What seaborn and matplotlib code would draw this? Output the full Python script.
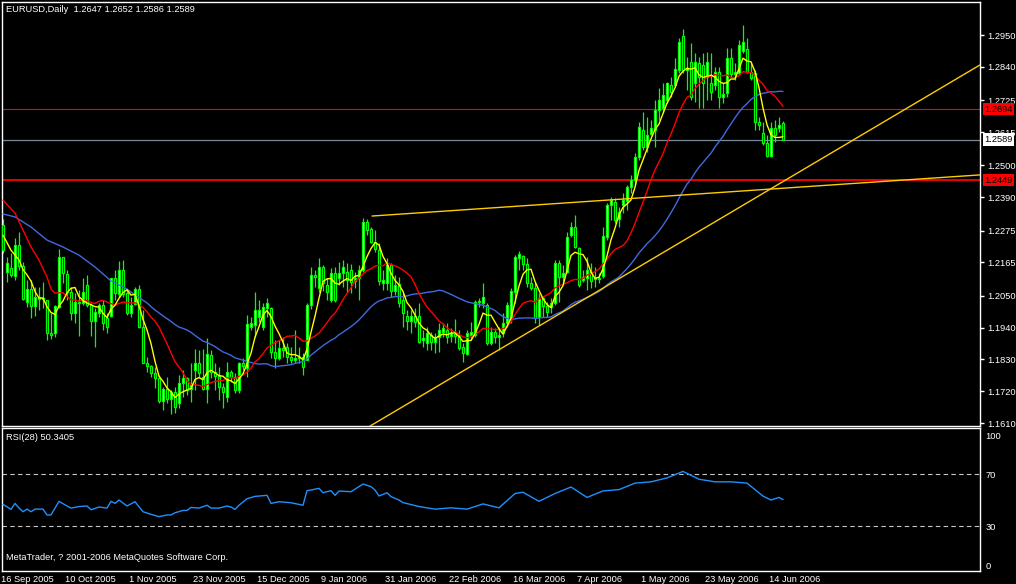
import numpy as np
import pandas as pd
import matplotlib
matplotlib.use("Agg")
import matplotlib.pyplot as plt
import matplotlib.transforms as mtransforms
import seaborn as sns

# ---------------- data (EURUSD daily, prices in pips = price * 1e4) ----------------
open_pips = [
    12294, 12131, 12145, 12117, 12225, 12152, 12028, 12073, 12014, 12045,
    12038, 12035, 11921, 11921, 12011, 12183, 12124, 12062, 11990, 12028,
    12025, 12087, 12018, 11962, 11990, 12018, 11972, 11979, 12110, 12055,
    12138, 12059, 11990, 12021, 12073, 11942, 11818, 11807, 11783, 11766,
    11687, 11728, 11693, 11717, 11680, 11749, 11766, 11728, 11793, 11818,
    11769, 11728, 11845, 11786, 11773, 11735, 11700, 11786, 11769, 11724,
    11818, 11800, 11942, 11948, 11976, 11942, 12007, 12007, 11855, 11835,
    11869, 11873, 11838, 11828, 11835, 11838, 11828, 12018, 12121, 12076,
    12149, 12087, 12035, 12128, 12110, 12128, 12131, 12138, 12100, 12110,
    12138, 12304, 12280, 12235, 12207, 12094, 12094, 12156, 12066, 12090,
    12035, 11979, 11962, 11979, 11979, 11897, 11886, 11914, 11890, 11907,
    11924, 11931, 11910, 11917, 11910, 11873, 11848, 11914, 11914, 12028,
    12025, 12018, 11886, 11924, 11907, 11921, 11956, 11972, 12062, 12180,
    12187, 12159, 12094, 12076, 11976, 12041, 12014, 12011, 12025, 12163,
    12114, 12131, 12259, 12287, 12215, 12104, 12110, 12131, 12107, 12110,
    12117, 12253, 12363, 12373, 12314, 12363, 12377, 12425, 12449, 12529,
    12622, 12563, 12608, 12622, 12691, 12698, 12726, 12777, 12777, 12829,
    12947, 12829, 12857, 12784, 12853, 12846, 12805, 12784, 12777, 12822,
    12736, 12750, 12871, 12815, 12819, 12895, 12902, 12822, 12819, 12650,
    12612, 12577, 12532, 12629, 12629, 12647]
high_pips = [
    12314, 12183, 12197, 12249, 12270, 12166, 12104, 12104, 12080, 12080,
    12097, 12035, 11990, 12018, 12211, 12183, 12138, 12080, 12059, 12069,
    12110, 12121, 12025, 12007, 12025, 12035, 11990, 12110, 12138, 12170,
    12173, 12069, 12045, 12080, 12087, 12000, 11838, 11811, 11804, 11776,
    11735, 11769, 11724, 11735, 11776, 11793, 11769, 11818, 11866, 11862,
    11866, 11903, 11862, 11818, 11804, 11749, 11821, 11793, 11783, 11821,
    11835, 11983, 11976, 12062, 12035, 12025, 12041, 12011, 11897, 11897,
    11907, 11886, 11873, 11931, 11873, 11852, 12025, 12149, 12138, 12180,
    12156, 12110, 12145, 12149, 12166, 12173, 12163, 12159, 12131, 12156,
    12318, 12314, 12287, 12277, 12232, 12138, 12180, 12163, 12121, 12114,
    12059, 12000, 12000, 12007, 12025, 11931, 11942, 11924, 11921, 11956,
    11956, 11956, 11938, 11969, 11931, 11886, 11931, 11959, 12035, 12041,
    12094, 12025, 11942, 11938, 11942, 11990, 12028, 12076, 12190, 12204,
    12190, 12180, 12114, 12094, 12059, 12045, 12028, 12041, 12173, 12173,
    12156, 12270, 12304, 12328, 12218, 12138, 12183, 12163, 12149, 12128,
    12287, 12370, 12390, 12387, 12356, 12404, 12432, 12467, 12543, 12650,
    12684, 12667, 12657, 12726, 12767, 12784, 12788, 12805, 12871, 12940,
    12971, 12874, 12922, 12888, 12874, 12888, 12891, 12888, 12840, 12840,
    12784, 12905, 12905, 12853, 12933, 12985, 12940, 12853, 12829, 12667,
    12650, 12605, 12650, 12657, 12667, 12652]
low_pips = [
    12197, 12097, 12114, 12104, 12138, 12035, 12011, 11972, 11979, 12000,
    12007, 11897, 11900, 11907, 12007, 12094, 12035, 11966, 11956, 11910,
    12018, 12011, 11910, 11873, 11976, 11931, 11921, 11976, 12035, 12045,
    12045, 11983, 11976, 12018, 11938, 11818, 11786, 11769, 11731, 11680,
    11655, 11680, 11641, 11645, 11662, 11700, 11707, 11683, 11724, 11769,
    11724, 11680, 11766, 11724, 11690, 11662, 11683, 11752, 11714, 11714,
    11793, 11769, 11931, 11907, 11959, 11931, 11976, 11835, 11800, 11828,
    11838, 11818, 11818, 11818, 11818, 11776, 11828, 12004, 12080, 12062,
    12066, 12035, 12028, 12028, 12087, 12080, 12062, 12059, 12076, 12035,
    12131, 12259, 12232, 12200, 12087, 12069, 12069, 12045, 12052, 12011,
    11942, 11931, 11921, 11942, 11886, 11873, 11862, 11862, 11852, 11855,
    11907, 11886, 11890, 11886, 11862, 11821, 11845, 11897, 11907, 12011,
    12007, 11879, 11879, 11886, 11862, 11907, 11942, 11956, 12025, 12138,
    12138, 12080, 12069, 11956, 11948, 11976, 11976, 11990, 12018, 12028,
    12094, 12128, 12253, 12215, 12080, 12097, 12069, 12076, 12080, 12094,
    12110, 12242, 12311, 12301, 12287, 12335, 12346, 12404, 12432, 12518,
    12553, 12546, 12605, 12563, 12657, 12681, 12715, 12736, 12770, 12819,
    12819, 12760, 12726, 12719, 12698, 12698, 12726, 12726, 12760, 12698,
    12715, 12736, 12805, 12795, 12812, 12888, 12819, 12795, 12622, 12622,
    12570, 12529, 12529, 12581, 12615, 12586]
close_pips = [
    12207, 12163, 12121, 12225, 12152, 12038, 12073, 12014, 12045, 12038,
    12041, 11921, 11914, 12014, 12183, 12128, 12062, 11990, 12028, 12025,
    12062, 12018, 11962, 11993, 12018, 11956, 11942, 12110, 12059, 12138,
    12055, 11990, 12018, 12073, 11942, 11818, 11807, 11783, 11766, 11687,
    11728, 11693, 11717, 11666, 11749, 11766, 11724, 11745, 11818, 11783,
    11728, 11848, 11786, 11773, 11735, 11717, 11786, 11769, 11724, 11818,
    11807, 11952, 11956, 12000, 12000, 12011, 12025, 11855, 11835, 11869,
    11862, 11838, 11828, 11835, 11838, 11804, 12018, 12121, 12114, 12149,
    12094, 12062, 12128, 12035, 12128, 12149, 12104, 12097, 12110, 12138,
    12304, 12277, 12235, 12211, 12100, 12104, 12156, 12066, 12087, 12025,
    11990, 11962, 11979, 11959, 11890, 11904, 11921, 11890, 11907, 11931,
    11938, 11907, 11921, 11910, 11869, 11852, 11921, 11924, 12028, 12031,
    12045, 11886, 11924, 11907, 11914, 11956, 12018, 12066, 12183, 12194,
    12159, 12094, 12076, 11972, 12041, 12014, 11993, 12025, 12163, 12114,
    12128, 12253, 12287, 12218, 12087, 12114, 12138, 12100, 12110, 12107,
    12256, 12363, 12380, 12311, 12339, 12380, 12425, 12449, 12529, 12632,
    12563, 12605, 12629, 12691, 12726, 12743, 12784, 12753, 12833, 12926,
    12829, 12836, 12736, 12857, 12805, 12784, 12857, 12753, 12822, 12736,
    12746, 12871, 12815, 12822, 12916, 12926, 12822, 12802, 12650, 12639,
    12577, 12532, 12629, 12605, 12639, 12589]

sma5_lead_bars = [0, 2]
sma5_lead_pips = [12259, 12207]
sma13_lead_bars = [0, 3, 5, 7, 9, 11]
sma13_lead_pips = [12380, 12335, 12277, 12218, 12173, 12114]
sma34_lead_bars = [0, 3, 7, 11, 15, 19, 23, 27, 31]
sma34_lead_pips = [12332, 12322, 12287, 12242, 12218, 12190, 12149, 12101, 12073]

# RSI(28)
rsi_bars = [0, 2, 3, 4, 5, 6, 7, 8, 10, 11, 12, 14, 16, 17, 19, 21, 22, 24, 26, 27,
            28, 29, 31, 33, 35, 37, 39, 41, 42, 43, 45, 46, 47, 49, 51, 52, 54, 56, 57, 58,
            59, 61, 63, 66, 67, 69, 72, 75, 76, 77, 79, 80, 82, 83, 84, 87, 90, 92, 93, 94,
            96, 97, 99, 100, 104, 108, 112, 116, 120, 124, 128, 130, 134, 138, 142, 146, 150,
            154, 158, 162, 166, 170, 174, 178, 182, 186, 190, 192, 194, 195]
rsi_vals = [46.7, 42.8, 47.4, 43.8, 41.0, 43.0, 41.0, 43.0, 43.0, 38.5, 38.5, 49.0, 45.4, 43.8,
            45.0, 45.4, 42.5, 44.6, 43.8, 49.0, 47.4, 50.0, 45.4, 48.7, 41.0, 39.0, 37.2, 38.5,
            38.5, 40.2, 42.0, 42.0, 44.3, 43.8, 46.0, 43.8, 43.8, 45.4, 44.6, 42.8, 46.0, 51.0,
            52.8, 53.6, 47.4, 48.7, 47.9, 46.0, 57.2, 57.7, 59.0, 55.6, 57.2, 53.6, 56.9, 56.4,
            62.3, 60.3, 57.7, 53.1, 55.6, 52.6, 50.0, 48.0, 45.0, 43.0, 44.0, 43.0, 47.0, 44.0,
            55.0, 56.0, 49.0, 55.0, 60.0, 52.0, 57.0, 58.0, 63.0, 64.0, 67.0, 72.0, 66.0, 64.0,
            64.0, 63.0, 53.0, 50.0, 52.0, 50.3405]

# horizontal levels and trend lines
red_levels = [1.2449, 1.2694]
bid_price = 1.2589
channel_bars = [92.25, 195.0]
channel_prices = [1.2325, 1.2421]
support_bars = [116.0, 195.0]
support_prices = [1.1798, 1.2444]

main_ticks = [1.2950, 1.2840, 1.2725, 1.2615, 1.2500, 1.2390, 1.2275, 1.2165,
              1.2050, 1.1940, 1.1830, 1.1720, 1.1610]
rsi_ticks = [0, 30, 70, 100]
date_tick_bars = [0, 16, 32, 48, 64, 80, 96, 112, 128, 144, 160, 176, 192]
date_tick_labels = ["16 Sep 2005", "10 Oct 2005", "1 Nov 2005", "23 Nov 2005",
                    "15 Dec 2005", "9 Jan 2006", "31 Jan 2006", "22 Feb 2006",
                    "16 Mar 2006", "7 Apr 2006", "1 May 2006", "23 May 2006",
                    "14 Jun 2006"]

# ---------------- figure ----------------
sns.set_style("dark")
plt.rcParams['font.family'] = ['Liberation Sans', 'DejaVu Sans']
FS = 6.7
W, H = 1016, 584
fig = plt.figure(figsize=(W / 100, H / 100), dpi=100, facecolor='black')
ax = fig.add_axes([2 / W, 158 / H, 978 / W, 424 / H])
ax2 = fig.add_axes([2 / W, 13 / H, 978 / W, 143 / H])

opens = np.array(open_pips) / 1e4
highs = np.array(high_pips) / 1e4
lows = np.array(low_pips) / 1e4
closes = np.array(close_pips) / 1e4
n = len(closes)
bars = np.arange(n)

for a in (ax, ax2):
    a.set_facecolor('black')
    a.grid(False)
    for s in a.spines.values():
        s.set_color('white')
        s.set_linewidth(1.0)
    a.set_xlim(-0.25, 244.25)

ax.set_ylim(1.1600, 1.3064)
ax2.set_ylim(-4.6, 105.4)

# levels
ax.axhline(red_levels[0], color='#FF0000', lw=1.3, zorder=1)
ax.axhline(red_levels[1], color='#FF0000', lw=0.8, zorder=1)
ax.axhline(bid_price, color='#778899', lw=0.9, zorder=1)

# candles
lime = '#00FF00'
ax.vlines(bars, lows, highs, color=lime, lw=0.9, zorder=2)
bull = closes >= opens
body_lo = np.minimum(opens, closes)
body_h = np.maximum(np.abs(closes - opens), 0.00005)
ax.bar(bars, body_h, bottom=body_lo, width=0.62,
       color=np.where(bull, 'white', 'black'), edgecolor=lime,
       linewidth=0.9, zorder=3)

# moving averages
cl = pd.Series(closes)

def ma_frame(lead_bars, lead_pips, period):
    comp = cl.rolling(period).mean()
    start = period - 1
    xs = list(lead_bars) + list(range(start, n))
    ys = list(np.array(lead_pips) / 1e4) + list(comp.iloc[start:])
    return pd.DataFrame({'bar': xs, 'price': ys})

for lb, lp, per, col in [(sma34_lead_bars, sma34_lead_pips, 34, '#4169E1'),
                         (sma13_lead_bars, sma13_lead_pips, 13, '#FF0000'),
                         (sma5_lead_bars, sma5_lead_pips, 5, '#FFFF00')]:
    df = ma_frame(lb, lp, per)
    sns.lineplot(data=df, x='bar', y='price', color=col, lw=1.0, ax=ax,
                 sort=False, estimator=None, legend=False, zorder=4)

# trend lines
gold = '#FFCC00'
xr = 244.25
sl = (channel_prices[1] - channel_prices[0]) / (channel_bars[1] - channel_bars[0])
ax.plot([channel_bars[0], xr], [channel_prices[0], channel_prices[0] + sl * (xr - channel_bars[0])],
        color=gold, lw=1.0, zorder=5)
ax.axline((support_bars[0], support_prices[0]), (support_bars[1], support_prices[1]),
          color=gold, lw=1.0, zorder=5)

# right axis (main)
ax.yaxis.tick_right()
ax.set_yticks(main_ticks)
ax.set_yticklabels([f"{t:.4f}" for t in main_ticks])
ax.tick_params(axis='y', colors='white', labelcolor='white', labelsize=FS,
               length=3, width=1, direction='out', pad=2)
ax.set_xticks([])
ax.set_xlabel('')
ax.set_ylabel('')

# price boxes
trans = mtransforms.blended_transform_factory(ax.transAxes, ax.transData)
for price, fc in [(red_levels[1], '#FF0000'), (bid_price, 'white'), (red_levels[0], '#FF0000')]:
    ax.text(1.0045, price, f"{price:.4f}", transform=trans, ha='left', va='center',
            fontsize=FS, color='black', clip_on=False, zorder=10,
            bbox=dict(boxstyle='square,pad=0.18', fc=fc, ec='none'))

# RSI panel
for lvl in (30, 70):
    ax2.axhline(lvl, color='#C8C8C8', lw=0.8, ls=(0, (4, 3)), zorder=1)
rsi_df = pd.DataFrame({'bar': rsi_bars, 'rsi': rsi_vals})
sns.lineplot(data=rsi_df, x='bar', y='rsi', color='#1E90FF', lw=1.0, ax=ax2,
             sort=False, estimator=None, legend=False, zorder=3)
ax2.yaxis.tick_right()
ax2.set_yticks(rsi_ticks)
ax2.set_yticklabels([str(t) for t in rsi_ticks])
ax2.tick_params(axis='y', colors='white', labelcolor='white', labelsize=FS,
                length=0, pad=4)
ax2.set_xticks(date_tick_bars)
ax2.set_xticklabels(date_tick_labels)
ax2.tick_params(axis='x', colors='white', labelcolor='white', labelsize=FS,
                length=3, width=1, direction='out', pad=0)
off = mtransforms.ScaledTranslation(-2 / 100, 0, fig.dpi_scale_trans)
for lab in ax2.get_xticklabels():
    lab.set_ha('left')
    lab.set_transform(lab.get_transform() + off)
ax2.set_xlabel('')
ax2.set_ylabel('')

# texts
fig.text(6 / W, 1 - 10 / H, "EURUSD,Daily  1.2647 1.2652 1.2586 1.2589",
         color='white', fontsize=FS, va='center', ha='left')
fig.text(6 / W, 1 - 438 / H, "RSI(28) 50.3405", color='white', fontsize=FS,
         va='center', ha='left')
fig.text(6 / W, 1 - 558 / H, "MetaTrader, ? 2001-2006 MetaQuotes Software Corp.",
         color='white', fontsize=FS, va='center', ha='left')

fig.savefig('out.png', dpi=100, facecolor='black')
